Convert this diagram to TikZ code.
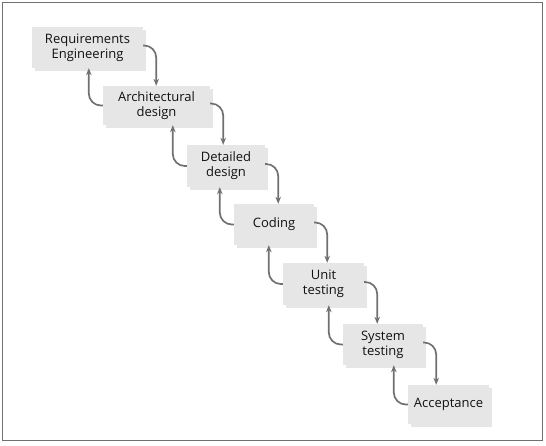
\documentclass[tikz,border=0pt]{standalone}
\usepackage{fontspec}
\setmainfont{Open Sans}
\usetikzlibrary{arrows.meta,shadows,calc}
\definecolor{boxfill}{HTML}{E6E6E6}
\definecolor{arrgray}{HTML}{707070}
\definecolor{txt}{HTML}{111111}
\tikzset{
  stagebox/.style={fill=boxfill, draw=none, align=center, inner sep=0pt,
    text=txt, font=\fontsize{13}{15}\selectfont,
    copy shadow={shadow xshift=3pt, shadow yshift=-3pt, fill=boxfill, draw=none}},
  flow/.style={draw=arrgray, line width=1.7pt, rounded corners=12pt,
    -{Stealth[length=7pt,width=5.5pt]}}
}
\begin{document}
\begin{tikzpicture}[x=1pt,y=-1pt]
\useasboundingbox (0,0) rectangle (546,445);
\draw[arrgray, line width=1.8pt] (2.5,2.5) rectangle (542.5,440.5);
\node[stagebox, minimum width=111pt, minimum height=41pt] (b1) at (87.5,47.5) {Requirements\\Engineering};
\node[stagebox, minimum width=107pt, minimum height=39pt] (b2) at (156.5,105.5) {Architectural\\design};
\node[stagebox, minimum width=78pt, minimum height=42pt] (b3) at (226,166) {Detailed\\design};
\node[stagebox, minimum width=80pt, minimum height=41pt] (b4) at (274,224.5) {Coding};
\node[stagebox, minimum width=81pt, minimum height=42pt] (b5) at (323.5,284) {Unit\\testing};
\node[stagebox, minimum width=80pt, minimum height=41pt] (b6) at (383,344.5) {System\\testing};
\node[stagebox, minimum width=81pt, minimum height=39pt] (b7) at (448.5,404.5) {Acceptance};
\foreach \a/\b in {b1/b2,b2/b3,b3/b4,b4/b5,b5/b6,b6/b7}{
  \draw[flow] ([yshift=2pt]\a.east) -| ([xshift=13pt]\a.east |- \b.north);
  \draw[flow] (\b.west) -| ([xshift=-14pt]\b.west |- \a.south);
}
\end{tikzpicture}
\end{document}
